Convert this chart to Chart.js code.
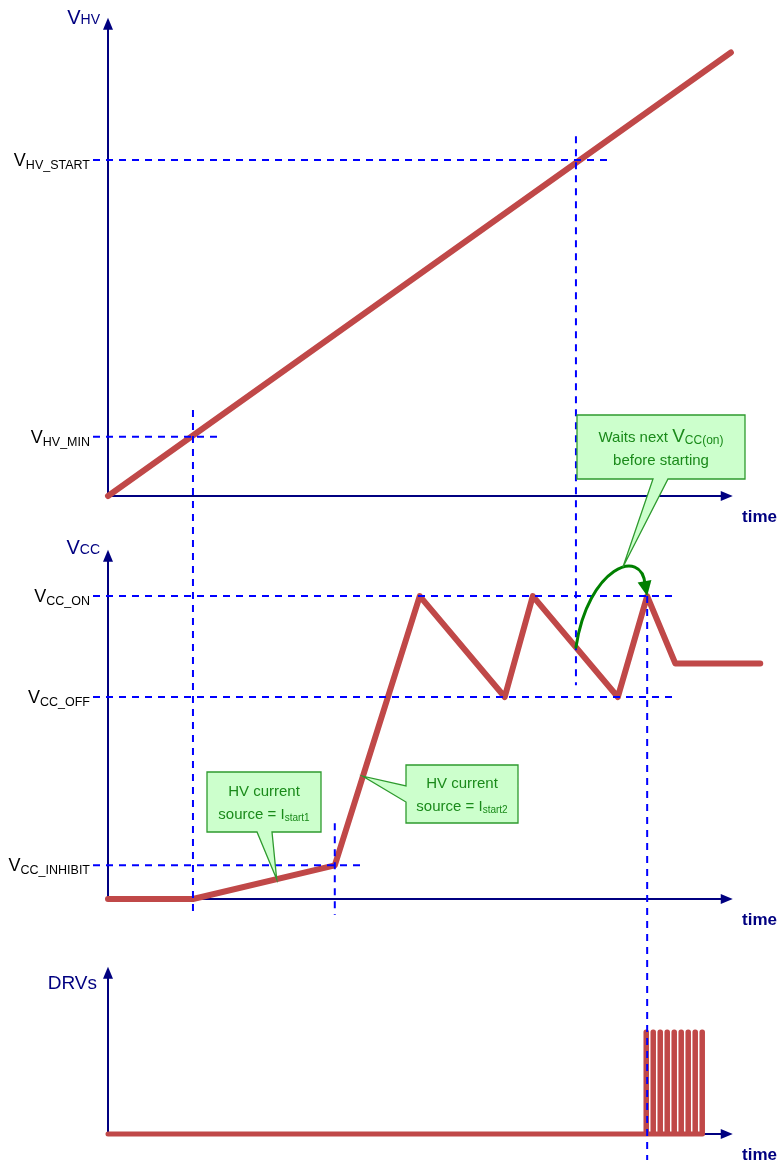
<!DOCTYPE html>
<html lang="en">
<head>
    <meta charset="UTF-8">
    <title>HV start-up sequence</title>
    <script src="https://cdn.jsdelivr.net/npm/chart.js"></script>
    <style>
        body { margin: 0; background: #ffffff; }
        #wrap { width: 778px; height: 1165px; }
    </style>
</head>
<body>
    <div id="wrap"><canvas id="seqChart" width="778" height="1165"></canvas></div>

    <script>
        // time is in arbitrary units, voltages in arbitrary units per panel
        var hvTime = [0, 99.7];
        var hvVolt = [0, 132];

        var ccTime = [0, 13.6, 36.3, 49.9, 63.5, 68.0, 81.6, 86.3, 90.8, 104.4];
        var ccVolt = [0, 0, 2, 18, 12, 18, 12, 18, 14, 14];

        var drvTime = [0,
            86.11, 86.11, 86.19, 86.19,
            87.23, 87.23, 87.31, 87.31,
            88.35, 88.35, 88.43, 88.43,
            89.47, 89.47, 89.55, 89.55,
            90.59, 90.59, 90.67, 90.67,
            91.71, 91.71, 91.79, 91.79,
            92.83, 92.83, 92.91, 92.91,
            93.95, 93.95, 94.03, 94.03,
            95.07, 95.07, 95.15, 95.15];
        var drvLevel = [0,
            0, 1, 1, 0,
            0, 1, 1, 0,
            0, 1, 1, 0,
            0, 1, 1, 0,
            0, 1, 1, 0,
            0, 1, 1, 0,
            0, 1, 1, 0,
            0, 1, 1, 0,
            0, 1, 1, 0];

        // reference levels (tick labels) and how far their dashed guide runs
        var hvLevelNames = ['HV_START', 'HV_MIN'];
        var hvLevelValues = [100, 17.6];
        var hvGuideEnd = [80.35, 18.25];

        var ccLevelNames = ['CC_ON', 'CC_OFF', 'CC_INHIBIT'];
        var ccLevelValues = [18, 12, 2];
        var ccGuideEnd = [90.75, 90.75, 40.8];

        // event instants (vertical dashed guides)
        var eventTimes = [13.6, 36.3, 74.9, 86.3];

        var axisTitles = ['HV', 'CC', 'DRVs'];
        var timeLabel = 'time';

        var H = 1165;
        var RED = '#c04848';
        var NAVY = '#000080';
        var BLUE = '#0000ff';
        var GREEN_TXT = '#1a8a1a';
        var FONT = '"Liberation Sans", Arial, sans-serif';

        function toPoints(xs, ys) {
            return xs.map(function (t, i) { return { x: t, y: ys[i] }; });
        }

        // y range so that value 0 sits at zeroY and one unit is unitPx tall
        function band(zeroY, unitPx) {
            return { min: -(H - zeroY) / unitPx, max: zeroY / unitPx };
        }

        function interp(xs, ys, t) {
            for (var i = 1; i < xs.length; i++) {
                if (t <= xs[i]) {
                    var f = (t - xs[i - 1]) / (xs[i] - xs[i - 1]);
                    return ys[i - 1] + f * (ys[i] - ys[i - 1]);
                }
            }
            return ys[ys.length - 1];
        }

        function drawRich(ctx, parts, x, y, align, color) {
            var w = 0;
            parts.forEach(function (p) { ctx.font = p.font; w += ctx.measureText(p.text).width; });
            var cx = align === 'right' ? x - w : (align === 'center' ? x - w / 2 : x);
            ctx.fillStyle = color;
            ctx.textAlign = 'left';
            ctx.textBaseline = 'alphabetic';
            parts.forEach(function (p) {
                ctx.font = p.font;
                ctx.fillText(p.text, cx, y + (p.dy || 0));
                cx += ctx.measureText(p.text).width;
            });
        }

        function arrowHead(ctx, tipX, tipY, dx, dy, len, half, color) {
            var n = Math.sqrt(dx * dx + dy * dy);
            dx /= n; dy /= n;
            var bx = tipX - dx * len, by = tipY - dy * len;
            ctx.beginPath();
            ctx.moveTo(tipX, tipY);
            ctx.lineTo(bx - dy * half, by + dx * half);
            ctx.lineTo(bx + dy * half, by - dx * half);
            ctx.closePath();
            ctx.fillStyle = color;
            ctx.fill();
        }

        function dashed(ctx, x1, y1, x2, y2) {
            ctx.save();
            ctx.strokeStyle = BLUE;
            ctx.lineWidth = 2;
            ctx.setLineDash([7, 6]);
            ctx.beginPath();
            ctx.moveTo(x1, y1);
            ctx.lineTo(x2, y2);
            ctx.stroke();
            ctx.restore();
        }

        function callout(ctx, b, side, base, tip) {
            ctx.save();
            ctx.beginPath();
            ctx.moveTo(b.l, b.t);
            ctx.lineTo(b.r, b.t);
            ctx.lineTo(b.r, b.b);
            if (side === 'bottom') {
                ctx.lineTo(base[1], b.b);
                ctx.lineTo(tip.x, tip.y);
                ctx.lineTo(base[0], b.b);
            }
            ctx.lineTo(b.l, b.b);
            if (side === 'left') {
                ctx.lineTo(b.l, base[1]);
                ctx.lineTo(tip.x, tip.y);
                ctx.lineTo(b.l, base[0]);
            }
            ctx.closePath();
            ctx.fillStyle = '#ccffcc';
            ctx.fill();
            ctx.strokeStyle = '#2e9a2e';
            ctx.lineWidth = 1.3;
            ctx.stroke();
            ctx.restore();
        }

        var diagramPlugin = {
            id: 'diagram',
            beforeDatasetsDraw: function (chart) {
                var ctx = chart.ctx, s = chart.scales;
                var axes = [
                    { y: s.yHV, top: 142.3, title: axisTitles[0], dy: 6 },
                    { y: s.yCC, top: 20.75, title: axisTitles[1], dy: 4 },
                    { y: s.yDRV, top: 1.64, title: axisTitles[2], dy: 22 }
                ];
                var x0 = s.x.getPixelForValue(0);
                var xEnd = s.x.getPixelForValue(100);
                ctx.save();
                axes.forEach(function (a, i) {
                    var y0 = a.y.getPixelForValue(0);
                    var yTop = a.y.getPixelForValue(a.top);
                    ctx.strokeStyle = NAVY;
                    ctx.lineWidth = 2;
                    ctx.beginPath();
                    ctx.moveTo(x0, y0);
                    ctx.lineTo(x0, yTop + 8);
                    ctx.moveTo(x0, y0);
                    ctx.lineTo(xEnd - 8, y0);
                    ctx.stroke();
                    arrowHead(ctx, x0, yTop, 0, -1, 12, 5, NAVY);
                    arrowHead(ctx, xEnd, y0, 1, 0, 12, 5, NAVY);

                    if (i < 2) {
                        drawRich(ctx, [
                            { text: 'V', font: '20px ' + FONT },
                            { text: a.title, font: '14px ' + FONT }
                        ], x0 - 8, yTop + a.dy, 'right', NAVY);
                    } else {
                        drawRich(ctx, [{ text: a.title, font: '19px ' + FONT }],
                            x0 - 11, yTop + a.dy, 'right', NAVY);
                    }
                    drawRich(ctx, [{ text: timeLabel, font: 'bold 17px ' + FONT }],
                        742, y0 + 26, 'left', NAVY);
                });
                ctx.restore();
            },
            afterDatasetsDraw: function (chart) {
                var ctx = chart.ctx, s = chart.scales, x = s.x;
                var x0 = x.getPixelForValue(0);

                // horizontal guides + tick labels
                function levels(names, values, ends, yScale) {
                    names.forEach(function (n, i) {
                        var py = yScale.getPixelForValue(values[i]);
                        dashed(ctx, x0 - 15, py, x.getPixelForValue(ends[i]), py);
                        drawRich(ctx, [
                            { text: 'V', font: '18px ' + FONT },
                            { text: n, font: '12.5px ' + FONT, dy: 3 }
                        ], 90, py + 6, 'right', '#000000');
                    });
                }
                levels(hvLevelNames, hvLevelValues, hvGuideEnd, s.yHV);
                levels(ccLevelNames, ccLevelValues, ccGuideEnd, s.yCC);

                // vertical guides
                var spans = [
                    [s.yHV, 25.6, s.yCC, -0.95],
                    [s.yCC, 4.5, s.yCC, -0.95],
                    [s.yHV, 107.1, s.yCC, 12.7],
                    [s.yCC, 18, s.yDRV, -0.255]
                ];
                eventTimes.forEach(function (t, i) {
                    var px = x.getPixelForValue(t);
                    var sp = spans[i];
                    dashed(ctx, px, sp[0].getPixelForValue(sp[1]), px, sp[2].getPixelForValue(sp[3]));
                });

                // green arc: from the VCC ramp at the V_HV_START instant to the next VCC(on) peak
                var sx = x.getPixelForValue(eventTimes[2]);
                var sy = s.yCC.getPixelForValue(interp(ccTime, ccVolt, eventTimes[2]));
                var ex = x.getPixelForValue(ccTime[7]);
                var ey = s.yCC.getPixelForValue(ccVolt[7]);
                var c1 = { x: sx + 12, y: sy - 80 }, c2 = { x: ex - 5, y: ey - 50 };
                var e2 = { x: ex - 2, y: ey - 11 };
                ctx.save();
                ctx.strokeStyle = '#008000';
                ctx.lineWidth = 3;
                ctx.lineCap = 'round';
                ctx.beginPath();
                ctx.moveTo(sx, sy);
                ctx.bezierCurveTo(c1.x, c1.y, c2.x, c2.y, e2.x, e2.y);
                ctx.stroke();
                ctx.restore();
                arrowHead(ctx, ex, ey, e2.x - c2.x + 4, e2.y - c2.y, 15, 7, '#008000');
                // point on the arc where the callout tail lands
                var u = 0.6, w0 = Math.pow(1 - u, 3), w1 = 3 * u * Math.pow(1 - u, 2), w2 = 3 * u * u * (1 - u), w3 = u * u * u;
                var apex = {
                    x: w0 * sx + w1 * c1.x + w2 * c2.x + w3 * e2.x,
                    y: w0 * sy + w1 * c1.y + w2 * c2.y + w3 * e2.y
                };

                // callouts
                var tip1 = { x: x.getPixelForValue(27), y: s.yCC.getPixelForValue(interp(ccTime, ccVolt, 27)) };
                var tip2 = { x: x.getPixelForValue(40.8), y: s.yCC.getPixelForValue(interp(ccTime, ccVolt, 40.8)) };

                var b1 = { l: 207, t: 772, r: 321, b: 832 };
                callout(ctx, b1, 'bottom', [257, 272], tip1);
                drawRich(ctx, [{ text: 'HV current', font: '15px ' + FONT }], 264, 796, 'center', GREEN_TXT);
                drawRich(ctx, [
                    { text: 'source = I', font: '15px ' + FONT },
                    { text: 'start1', font: '10px ' + FONT, dy: 2 }
                ], 264, 819, 'center', GREEN_TXT);

                var b2 = { l: 406, t: 765, r: 518, b: 823 };
                callout(ctx, b2, 'left', [786, 802], tip2);
                drawRich(ctx, [{ text: 'HV current', font: '15px ' + FONT }], 462, 788, 'center', GREEN_TXT);
                drawRich(ctx, [
                    { text: 'source = I', font: '15px ' + FONT },
                    { text: 'start2', font: '10px ' + FONT, dy: 2 }
                ], 462, 811, 'center', GREEN_TXT);

                var b3 = { l: 577, t: 415, r: 745, b: 479 };
                callout(ctx, b3, 'bottom', [653, 668], apex);
                drawRich(ctx, [
                    { text: 'Waits next ', font: '15px ' + FONT },
                    { text: 'V', font: '19px ' + FONT },
                    { text: 'CC(on)', font: '12px ' + FONT, dy: 2 }
                ], 661, 442, 'center', GREEN_TXT);
                drawRich(ctx, [{ text: 'before starting', font: '15px ' + FONT }], 661, 465, 'center', GREEN_TXT);
            }
        };

        function traceStyle(width) {
            return {
                borderColor: RED,
                backgroundColor: RED,
                borderWidth: width,
                pointRadius: 0,
                tension: 0,
                fill: false,
                borderCapStyle: 'round',
                borderJoinStyle: 'round',
                clip: false
            };
        }

        var hvSet = Object.assign({ label: 'VHV', data: toPoints(hvTime, hvVolt), yAxisID: 'yHV' }, traceStyle(6));
        var ccSet = Object.assign({ label: 'VCC', data: toPoints(ccTime, ccVolt), yAxisID: 'yCC' }, traceStyle(6));
        var drvSet = Object.assign({ label: 'DRVs', data: toPoints(drvTime, drvLevel), yAxisID: 'yDRV' }, traceStyle(5));

        var hvRange = band(496, 3.36);
        var ccRange = band(899, 16.83);
        var drvRange = band(1134, 102);

        new Chart(document.getElementById('seqChart').getContext('2d'), {
            type: 'line',
            data: { datasets: [hvSet, ccSet, drvSet] },
            options: {
                responsive: false,
                animation: false,
                layout: { padding: { left: 108, right: 14, top: 0, bottom: 0 } },
                plugins: { legend: { display: false }, tooltip: { enabled: false } },
                scales: {
                    x: { type: 'linear', min: 0, max: 105, display: false },
                    yHV: { type: 'linear', min: hvRange.min, max: hvRange.max, display: false },
                    yCC: { type: 'linear', min: ccRange.min, max: ccRange.max, display: false },
                    yDRV: { type: 'linear', min: drvRange.min, max: drvRange.max, display: false }
                }
            },
            plugins: [diagramPlugin]
        });
    </script>
</body>
</html>
